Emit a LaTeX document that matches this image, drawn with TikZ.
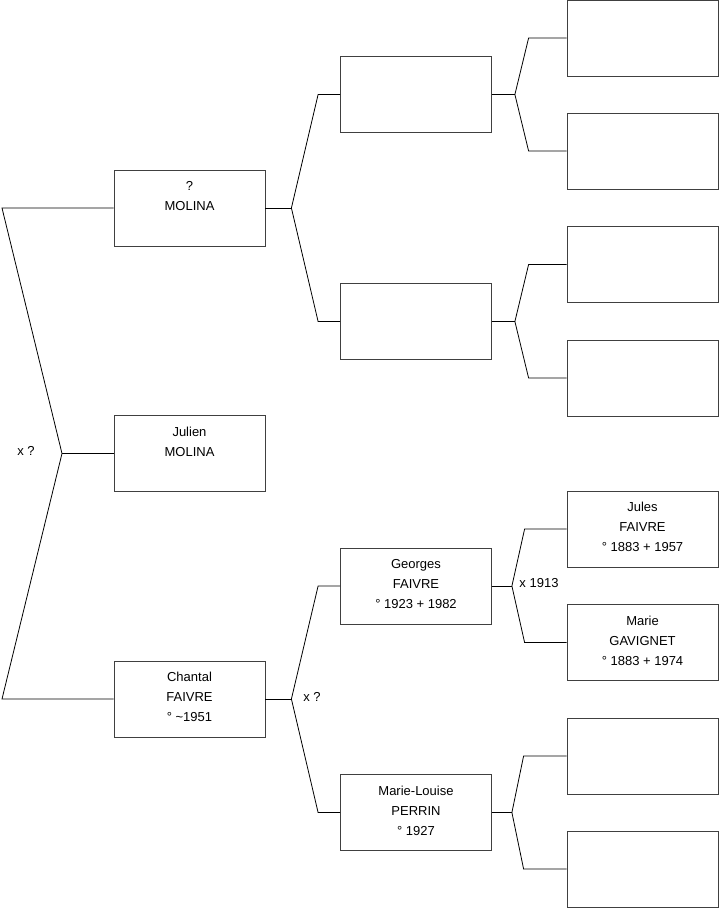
\documentclass[tikz,border=0pt]{standalone}
\usepackage{fontspec}
\setmainfont{Liberation Sans}
\usetikzlibrary{positioning,calc}

\begin{document}
\begin{tikzpicture}[
    x=1pt, y=-1pt,
    person/.style={rectangle, draw=black!75, line width=0.8pt, minimum width=151pt, minimum height=76pt, align=center, font=\fontsize{13}{20}\selectfont, inner sep=2pt, text depth=4pt},
    link/.style={draw=black, line width=0.8pt},
    union/.style={font=\fontsize{13}{15}\selectfont, inner sep=0pt}
]
\useasboundingbox (0,0) rectangle (719,908);

% Generation 1
\node[person] (julien) at (189.5,453.5) {Julien\\MOLINA\\\mbox{}};

% Generation 2
\node[person] (molina) at (189.5,208) {?\\MOLINA\\\mbox{}};
\node[person] (chantal) at (189.5,699) {Chantal\\FAIVRE\\° \textasciitilde1951};

% Generation 3
\node[person] (pmolina) at (416,94.5) {};
\node[person] (mmolina) at (416,321.5) {};
\node[person] (georges) at (416,586) {Georges\\FAIVRE\\° 1923 + 1982};
\node[person] (marielouise) at (416,812.5) {Marie-Louise\\PERRIN\\° 1927};

% Generation 4
\node[person] (ppmolina) at (642.5,38) {};
\node[person] (mpmolina) at (642.5,151) {};
\node[person] (pmmolina) at (642.5,264.5) {};
\node[person] (mmmolina) at (642.5,378) {};
\node[person] (jules) at (642.5,529) {Jules\\FAIVRE\\° 1883 + 1957};
\node[person] (marie) at (642.5,642.5) {Marie\\GAVIGNET\\° 1883 + 1974};
\node[person] (pperrin) at (642.5,756) {};
\node[person] (mperrin) at (642.5,869) {};

% Root fork
\coordinate (froot) at (62,453.5);
\draw[link] (froot) -- (julien.west);
\draw[link] (froot) -- (2,208) -- (molina.west);
\draw[link] (froot) -- (2,699) -- (chantal.west);
\node[union] (uroot) at (26,451) {x ?};

% Gen 2 forks
\coordinate (fmolina) at ($(molina.east)+(26,0)$);
\draw[link] (molina.east) -- (fmolina);
\draw[link] (fmolina) -- ($(pmolina.west)+(-22,0)$) -- (pmolina.west);
\draw[link] (fmolina) -- ($(mmolina.west)+(-22,0)$) -- (mmolina.west);

\coordinate (fchantal) at ($(chantal.east)+(26,0)$);
\draw[link] (chantal.east) -- (fchantal);
\draw[link] (fchantal) -- ($(georges.west)+(-22,0)$) -- (georges.west);
\draw[link] (fchantal) -- ($(marielouise.west)+(-22,0)$) -- (marielouise.west);
\node[union] (uchantal) at (312,697) {x ?};

% Gen 3 forks
\coordinate (fpmolina) at ($(pmolina.east)+(23,0)$);
\draw[link] (pmolina.east) -- (fpmolina);
\draw[link] (fpmolina) -- ($(ppmolina.west)+(-38,0)$) -- (ppmolina.west);
\draw[link] (fpmolina) -- ($(mpmolina.west)+(-38,0)$) -- (mpmolina.west);

\coordinate (fmmolina) at ($(mmolina.east)+(23,0)$);
\draw[link] (mmolina.east) -- (fmmolina);
\draw[link] (fmmolina) -- ($(pmmolina.west)+(-38,0)$) -- (pmmolina.west);
\draw[link] (fmmolina) -- ($(mmmolina.west)+(-38,0)$) -- (mmmolina.west);

\coordinate (fgeorges) at ($(georges.east)+(20,0)$);
\draw[link] (georges.east) -- (fgeorges);
\draw[link] (fgeorges) -- ($(jules.west)+(-42,0)$) -- (jules.west);
\draw[link] (fgeorges) -- ($(marie.west)+(-42,0)$) -- (marie.west);
\node[union] (ugeorges) at (539,583) {x 1913};

\coordinate (fmarielouise) at ($(marielouise.east)+(20,0)$);
\draw[link] (marielouise.east) -- (fmarielouise);
\draw[link] (fmarielouise) -- ($(pperrin.west)+(-43,0)$) -- (pperrin.west);
\draw[link] (fmarielouise) -- ($(mperrin.west)+(-43,0)$) -- (mperrin.west);

\end{tikzpicture}
\end{document}
